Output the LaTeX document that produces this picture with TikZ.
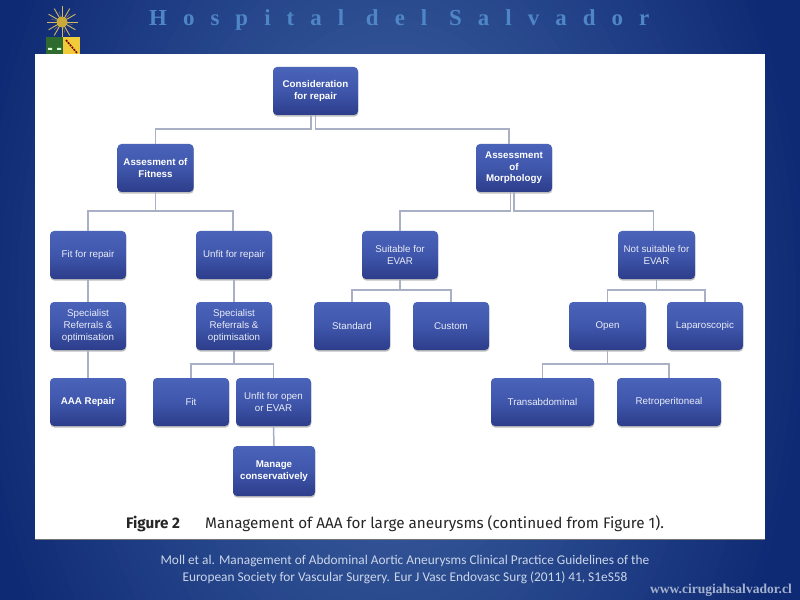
\documentclass[tikz,border=0pt]{standalone}
\usepackage{fontspec}
\setmainfont{Liberation Sans}
\newfontfamily\titlefont[LetterSpace=70]{Liberation Serif}
\newfontfamily\webfont{Liberation Serif}
\newfontfamily\capfont{Fira Sans}
\newfontfamily\reffont{Carlito}
\usetikzlibrary{shadows,calc}
\definecolor{edgedark}{HTML}{0E2A74}
\definecolor{midblue}{HTML}{466AA8}
\definecolor{boxtop}{HTML}{4A64BA}
\definecolor{boxmid}{HTML}{3F56AB}
\definecolor{boxbot}{HTML}{2C3D8A}
\definecolor{linkcol}{HTML}{A9AFC4}
\definecolor{titlecol}{HTML}{4F86C6}
\definecolor{refcol}{HTML}{CBD6EA}
\definecolor{webcol}{HTML}{A4B2CE}
\definecolor{shgreen}{HTML}{2F6B2E}
\definecolor{shyellow}{HTML}{F0CC3A}
\definecolor{sunc}{HTML}{C9A93A}
\tikzset{
  x=1bp,y=-1bp,
  bx/.style={rectangle,rounded corners=4bp,minimum width=76bp,minimum height=48bp,inner sep=1bp,
    align=center,text=white!88!boxtop,font=\fontsize{9.8}{12.2}\selectfont,
    top color=boxtop,bottom color=boxbot,middle color=boxmid,
    drop shadow={shadow xshift=0.4bp,shadow yshift=-1.6bp,opacity=.45,fill=black!55}},
  bb/.style={bx,text=white,font=\fontsize{9.8}{11.5}\selectfont\bfseries},
  link/.style={draw=linkcol,line width=1.5bp},
}
\begin{document}
\begin{tikzpicture}
\useasboundingbox (0,0) rectangle (800,600);
\begin{scope}
\clip (0,0) rectangle (800,600);
\fill[edgedark] (0,0) rectangle (800,600);
\foreach \t in {2,4,...,100}{
  \pgfmathsetmacro{\rx}{420*(1-\t/100)+3}
  \pgfmathsetmacro{\ry}{1.5*\rx}
  \fill[midblue!\t!edgedark] (390,300) ellipse [x radius=\rx,y radius=\ry];
}
\end{scope}
% logo
\foreach \a in {0,30,...,330}{\draw[sunc!80!white,line width=.9bp] (62,22) -- ++(\a:15.5);}
\foreach \a in {15,75,...,345}{\draw[black!55,line width=.5bp] (62,22) -- ++(\a:11);}
\fill[sunc] (62,22) circle (5.5);
\fill[shgreen] (46,37) rectangle (63,56);
\fill[shyellow] (63,37) rectangle (80,56);
\fill[white!85!green] (48,48) rectangle (52,50) (57,48) rectangle (61,50);
\draw[red!50!black,line width=1.6bp,dash pattern=on 2bp off 1bp] (66,40) -- (77,53);
% title
\node[text=titlecol,font=\fontsize{23}{25}\selectfont\titlefont\bfseries,anchor=base west,inner sep=0pt] (title) at (149,25.5) {Hospital del Salvador};
% panel
\fill[white] (35,54) rectangle (765,539);
\draw[black!55,line width=.5bp] (35,539) -- (765,539);
% boxes
\node[bb,minimum width=85bp] (cons) at (315.5,91) {Consideration\\for repair};
\node[bb] (fit) at (155.5,168) {Assesment of\\Fitness};
\node[bb] (morph) at (514,168) {Assessment\\of\\Morphology};
\node[bx] (fitrep) at (88,255) {Fit for repair};
\node[bx] (unfitrep) at (234,255) {Unfit for repair};
\node[bx] (suit) at (400,255) {Suitable for\\EVAR};
\node[bx,minimum width=77bp] (notsuit) at (656.5,255) {Not suitable for\\EVAR};
\node[bx] (specl) at (88,326) {Specialist\\Referrals \&\\optimisation};
\node[bx] (specr) at (234,326) {Specialist\\Referrals \&\\optimisation};
\node[bx] (std) at (352,326) {Standard};
\node[bx] (cust) at (451,326) {Custom};
\node[bx,minimum width=77bp] (open) at (607.5,326) {Open};
\node[bx] (lap) at (705,326) {Laparoscopic};
\node[bb] (aaa) at (88,402) {AAA Repair};
\node[bx] (fitb) at (191,402) {Fit};
\node[bx,minimum width=75bp] (unfito) at (273.5,402) {Unfit for open\\or EVAR};
\node[bb,minimum width=82bp,minimum height=50bp] (manage) at (274,471) {Manage\\conservatively};
\node[bx,minimum width=103bp] (trans) at (542.5,402) {Transabdominal};
\node[bx,minimum width=104bp] (retro) at (669,402) {Retroperitoneal};
% connectors
\draw[link] ([xshift=-4.5bp]cons.south) -- ++(0,14) -| (fit.north);
\draw[link] (cons.south) -- ++(0,14) -| ([xshift=-5bp]morph.north);
\draw[link] (fit.south) -- ++(0,19) -| (fitrep.north);
\draw[link] (fit.south) -- ++(0,19) -| ([xshift=-1bp]unfitrep.north);
\draw[link] ([xshift=-3.5bp]morph.south) -- ++(0,19) -| (suit.north);
\draw[link] (morph.south) -- ++(0,19) -| ([xshift=-3bp]notsuit.north);
\draw[link] (fitrep.south) -- (specl.north);
\draw[link] (unfitrep.south) -- (specr.north);
\draw[link] (suit.south) -- ++(0,11) -| (std.north);
\draw[link] (suit.south) -- ++(0,11) -| (cust.north);
\draw[link] (notsuit.south) -- ++(0,11) -| (open.north);
\draw[link] (notsuit.south) -- ++(0,11) -| (lap.north);
\draw[link] (specl.south) -- (aaa.north);
\draw[link] (specr.south) -- ++(0,14) -| (fitb.north);
\draw[link] (specr.south) -- ++(0,14) -| (unfito.north);
\draw[link] (unfito.south) -- (manage.north);
\draw[link] (open.south) -- ++(0,14) -| (trans.north);
\draw[link] (open.south) -- ++(0,14) -| (retro.north);
% caption
\node[anchor=base west,inner sep=0pt,font=\fontsize{15.3}{17}\selectfont\capfont\bfseries,text=black!85] (figlab) at (126,528) {Figure 2};
\node[anchor=base west,inner sep=0pt,font=\fontsize{15.3}{17}\selectfont\capfont,text=black!85] (figcap) at (205,528) {Management of AAA for large aneurysms (continued from Figure 1).};
% reference
\node[align=center,inner sep=0pt,text=refcol,font=\fontsize{13.4}{18}\selectfont\reffont] (ref) at (405,569.5) {Moll et al. Management of Abdominal Aortic Aneurysms Clinical Practice Guidelines of the\\European Society for Vascular Surgery. Eur J Vasc Endovasc Surg (2011) 41, S1eS58};
\node[anchor=base east,inner sep=0pt,text=webcol,font=\fontsize{13.6}{15}\selectfont\webfont\bfseries] (web) at (792,593) {www.cirugiahsalvador.cl};
\end{tikzpicture}
\end{document}
